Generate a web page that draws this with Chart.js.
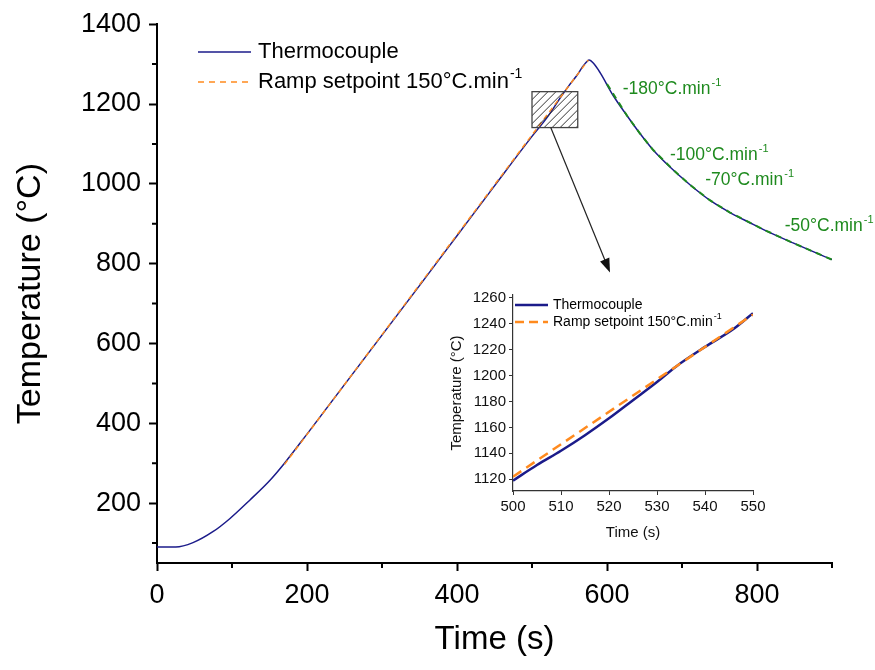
<!DOCTYPE html>
<html>
<head>
<meta charset="utf-8">
<script src="https://cdn.jsdelivr.net/npm/chart.js@4.4.1/dist/chart.umd.min.js"></script>
<style>
  body { margin: 0; background: #fff; }
  #wrap { position: relative; width: 875px; height: 670px; }
  #main { position: absolute; left: 0; top: 0; }
  #inset { position: absolute; left: 440px; top: 283px; }
</style>
</head>
<body>
<div id="wrap">
  <canvas id="main" width="875" height="670"></canvas>
  <canvas id="inset" width="330" height="262"></canvas>
</div>
<script>
const FONT = '"Liberation Sans", Arial, sans-serif';

// thermocouple reading (s, °C)
const tcTime = [0, 25, 48, 75, 97, 124, 151, 170, 200, 250, 300, 350, 400, 450, 500, 520, 540, 550, 560, 567, 572, 576, 582, 591, 608, 627, 644, 661, 684, 711, 737, 764, 791, 808, 848, 900];
const tcTemp = [90, 90, 101, 129, 161, 208, 258, 300, 373, 497, 621, 745, 870, 995, 1119, 1166, 1222, 1248, 1272, 1292, 1304, 1310, 1302, 1278, 1222, 1170, 1126, 1086, 1042, 997, 959, 928, 902, 886, 852, 810];

// heating ramp setpoint 150°C/min
const rampTime = [170, 575];
const rampTemp = [297, 1310];

// cooling setpoint (-180, -100, -70, -50 °C/min)
const coolTime = [600, 627, 644, 661, 690, 711, 737, 764, 808, 848, 900];
const coolTemp = [1250, 1170, 1126, 1086, 1032, 997, 959, 928, 886, 852, 810];
const coolRates = ['-180', '-100', '-70', '-50'];

const xTicks = [0, 200, 400, 600, 800];
const xMinor = [100, 300, 500, 700, 900];
const yTicks = [200, 400, 600, 800, 1000, 1200, 1400];
const yMinor = [100, 300, 500, 700, 900, 1100, 1300];

// zoomed window 500-550 s
const zoomTime = [500, 505, 510, 515, 520, 525, 530, 534, 540, 546, 550];
const zoomTemp = [1119, 1131, 1142, 1154, 1167, 1181, 1195, 1207, 1222, 1236, 1248];
const zoomRampTime = [500, 550];
const zoomRampTemp = [1122, 1247];
const zoomXTicks = [500, 510, 520, 530, 540, 550];
const zoomYTicks = [1120, 1140, 1160, 1180, 1200, 1220, 1240, 1260];

const NAVY = '#1b1b8a';
const ORANGE = '#ff8a1e';
const GREEN = '#1e8a1e';

const pts = (xs, ys) => xs.map((x, i) => ({ x: x, y: ys[i] }));
const plain = v => String(v);

function supText(ctx, base, sup, x, y, size, color) {
  ctx.fillStyle = color;
  ctx.textAlign = 'left';
  ctx.textBaseline = 'middle';
  ctx.font = size + 'px ' + FONT;
  ctx.fillText(base, x, y);
  const w = ctx.measureText(base).width;
  ctx.font = Math.round(size * 0.62) + 'px ' + FONT;
  ctx.fillText(sup, x + w + 1, y - size * 0.36);
}

function minorTicks(chart, xs, ys, len, width) {
  const ctx = chart.ctx, a = chart.chartArea;
  const sx = chart.scales.x, sy = chart.scales.y;
  ctx.save();
  ctx.strokeStyle = '#000';
  ctx.lineWidth = width;
  ctx.beginPath();
  xs.forEach(v => { const p = sx.getPixelForValue(v); ctx.moveTo(p, a.bottom); ctx.lineTo(p, a.bottom + len); });
  ys.forEach(v => { const p = sy.getPixelForValue(v); ctx.moveTo(a.left, p); ctx.lineTo(a.left - len, p); });
  ctx.stroke();
  ctx.restore();
}

const mainExtras = {
  id: 'mainExtras',
  afterDraw(chart) {
    const ctx = chart.ctx;
    const sx = chart.scales.x, sy = chart.scales.y;
    minorTicks(chart, xMinor, yMinor, 5, 2);

    // legend
    ctx.save();
    ctx.lineWidth = 1.5;
    ctx.strokeStyle = NAVY;
    ctx.beginPath(); ctx.moveTo(198, 52); ctx.lineTo(251, 52); ctx.stroke();
    ctx.strokeStyle = ORANGE;
    ctx.setLineDash([6, 5]);
    ctx.beginPath(); ctx.moveTo(198, 82); ctx.lineTo(251, 82); ctx.stroke();
    ctx.setLineDash([]);
    supText(ctx, 'Thermocouple', '', 258, 52, 22, '#000');
    supText(ctx, 'Ramp setpoint 150°C.min', '-1', 258, 82, 22, '#000');

    // cooling rate labels
    const labelAt = [[621, 1238], [684, 1072], [731, 1008], [837, 893]];
    coolRates.forEach((r, i) => {
      supText(ctx, r + '°C.min', '-1', sx.getPixelForValue(labelAt[i][0]), sy.getPixelForValue(labelAt[i][1]), 17.5, GREEN);
    });

    // hatched box marking the zoomed window
    const x0 = sx.getPixelForValue(500), x1 = sx.getPixelForValue(561);
    const y0 = sy.getPixelForValue(1231), y1 = sy.getPixelForValue(1141);
    ctx.save();
    ctx.beginPath(); ctx.rect(x0, y0, x1 - x0, y1 - y0); ctx.clip();
    ctx.strokeStyle = '#333';
    ctx.lineWidth = 1;
    ctx.beginPath();
    for (let k = x0 - (y1 - y0); k < x1; k += 8) {
      ctx.moveTo(k, y1); ctx.lineTo(k + (y1 - y0), y0);
    }
    ctx.stroke();
    ctx.restore();
    ctx.strokeStyle = '#444';
    ctx.lineWidth = 1.3;
    ctx.strokeRect(x0, y0, x1 - x0, y1 - y0);

    // arrow to inset
    const ax = sx.getPixelForValue(525), ay = y1;
    const bx = sx.getPixelForValue(604), by = sy.getPixelForValue(778);
    const ang = Math.atan2(by - ay, bx - ax);
    ctx.strokeStyle = '#222';
    ctx.fillStyle = '#111';
    ctx.lineWidth = 1.2;
    ctx.beginPath(); ctx.moveTo(ax, ay); ctx.lineTo(bx - 10 * Math.cos(ang), by - 10 * Math.sin(ang)); ctx.stroke();
    ctx.beginPath();
    ctx.moveTo(bx, by);
    ctx.lineTo(bx - 14 * Math.cos(ang) + 5 * Math.sin(ang), by - 14 * Math.sin(ang) - 5 * Math.cos(ang));
    ctx.lineTo(bx - 14 * Math.cos(ang) - 5 * Math.sin(ang), by - 14 * Math.sin(ang) + 5 * Math.cos(ang));
    ctx.closePath(); ctx.fill();
    ctx.restore();
  }
};

new Chart(document.getElementById('main'), {
  type: 'line',
  data: {
    datasets: [
      { data: pts(rampTime, rampTemp), borderColor: ORANGE, borderWidth: 1.5, borderDash: [5, 4], pointRadius: 0, tension: 0 },
      { data: pts(coolTime, coolTemp), borderColor: GREEN, borderWidth: 2, borderDash: [6, 5], pointRadius: 0, tension: 0 },
      { data: pts(tcTime, tcTemp), borderColor: NAVY, borderWidth: 1.5, pointRadius: 0, cubicInterpolationMode: 'monotone' }
    ]
  },
  options: {
    responsive: false,
    animation: false,
    layout: { padding: { top: 20, right: 43, left: 0, bottom: 0 } },
    plugins: { legend: { display: false }, tooltip: { enabled: false } },
    scales: {
      x: {
        type: 'linear', min: 0, max: 900,
        afterBuildTicks: s => { s.ticks = xTicks.map(v => ({ value: v })); },
        afterFit: s => { s.height = 107; },
        grid: { drawOnChartArea: false, tickLength: 8, tickWidth: 2, tickColor: '#000' },
        border: { color: '#000', width: 2 },
        ticks: { color: '#000', font: { family: FONT, size: 27 }, padding: 8, maxRotation: 0, callback: plain },
        title: { display: true, text: 'Time (s)', color: '#000', font: { family: FONT, size: 33 }, padding: { top: 0, bottom: 10 } }
      },
      y: {
        type: 'linear', min: 50, max: 1400,
        afterBuildTicks: s => { s.ticks = yTicks.map(v => ({ value: v })); },
        afterFit: s => { s.width = 157; },
        grid: { drawOnChartArea: false, tickLength: 8, tickWidth: 2, tickColor: '#000' },
        border: { color: '#000', width: 2 },
        ticks: { color: '#000', font: { family: FONT, size: 27 }, padding: 8, callback: plain },
        title: { display: true, text: 'Temperature (°C)', color: '#000', font: { family: FONT, size: 34 }, padding: { top: 10, bottom: 0 } }
      }
    }
  },
  plugins: [mainExtras]
});

const insetExtras = {
  id: 'insetExtras',
  afterDraw(chart) {
    const ctx = chart.ctx;
    ctx.save();
    ctx.lineWidth = 2.5;
    ctx.strokeStyle = NAVY;
    ctx.beginPath(); ctx.moveTo(75, 22); ctx.lineTo(108, 22); ctx.stroke();
    ctx.strokeStyle = ORANGE;
    ctx.setLineDash([9, 5]);
    ctx.beginPath(); ctx.moveTo(75, 39); ctx.lineTo(108, 39); ctx.stroke();
    ctx.setLineDash([]);
    supText(ctx, 'Thermocouple', '', 113, 22, 14, '#000');
    supText(ctx, 'Ramp setpoint 150°C.min', '-1', 113, 39, 14, '#000');
    ctx.restore();
  }
};

new Chart(document.getElementById('inset'), {
  type: 'line',
  data: {
    datasets: [
      { data: pts(zoomRampTime, zoomRampTemp), borderColor: ORANGE, borderWidth: 2.5, borderDash: [10, 6], pointRadius: 0, tension: 0 },
      { data: pts(zoomTime, zoomTemp), borderColor: NAVY, borderWidth: 2.5, pointRadius: 0, cubicInterpolationMode: 'monotone' }
    ]
  },
  options: {
    responsive: false,
    animation: false,
    layout: { padding: { top: 10, right: 17, left: 0, bottom: 0 } },
    plugins: { legend: { display: false }, tooltip: { enabled: false } },
    scales: {
      x: {
        type: 'linear', min: 500, max: 550,
        afterBuildTicks: s => { s.ticks = zoomXTicks.map(v => ({ value: v })); },
        afterFit: s => { s.height = 54; },
        grid: { drawOnChartArea: false, tickLength: 4, tickWidth: 1, tickColor: '#333' },
        border: { color: '#333', width: 1.2 },
        ticks: { color: '#111', font: { family: FONT, size: 15 }, padding: 3, maxRotation: 0, callback: plain },
        title: { display: true, text: 'Time (s)', color: '#111', font: { family: FONT, size: 15 }, padding: { top: 0, bottom: 3 } }
      },
      y: {
        type: 'linear', min: 1111, max: 1262,
        afterBuildTicks: s => { s.ticks = zoomYTicks.map(v => ({ value: v })); },
        afterFit: s => { s.width = 73; },
        grid: { drawOnChartArea: false, tickLength: 4, tickWidth: 1, tickColor: '#333' },
        border: { color: '#333', width: 1.2 },
        ticks: { color: '#111', font: { family: FONT, size: 15 }, padding: 3, callback: plain },
        title: { display: true, text: 'Temperature (°C)', color: '#111', font: { family: FONT, size: 15 }, padding: { top: 8, bottom: 0 } }
      }
    }
  },
  plugins: [insetExtras]
});
</script>
</body>
</html>
